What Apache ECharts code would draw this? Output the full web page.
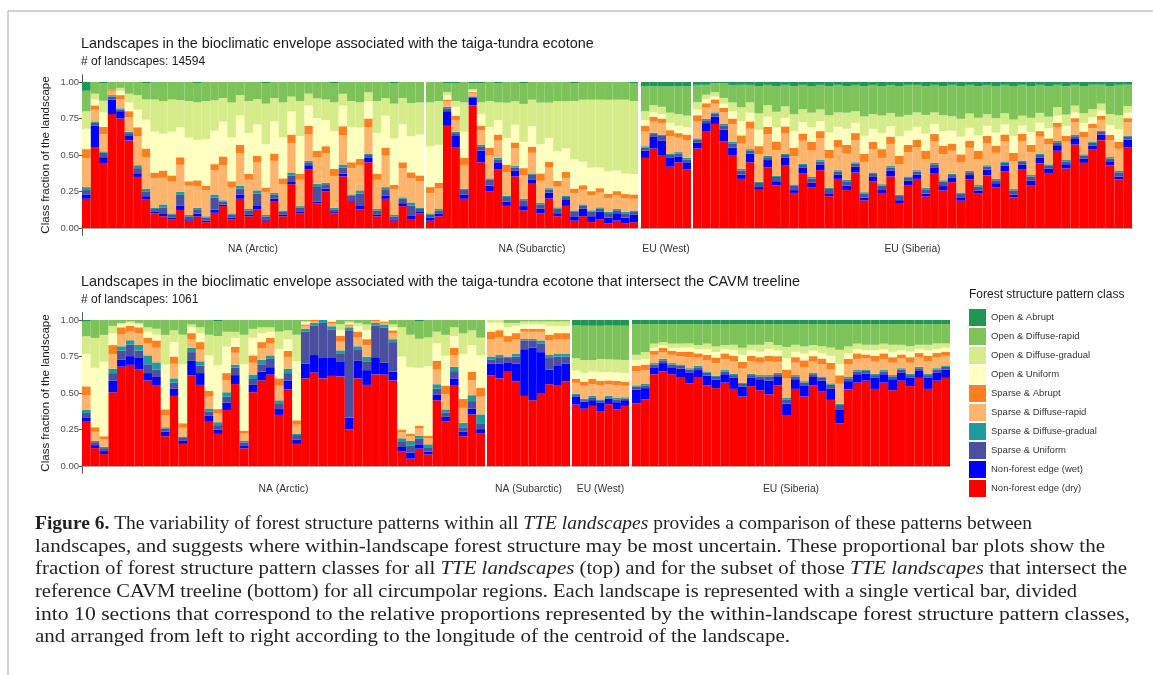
<!DOCTYPE html>
<html>
<head>
<meta charset="utf-8">
<script src="https://cdn.jsdelivr.net/npm/echarts@6/dist/echarts.min.js"></script>
<style>
  html, body { margin: 0; padding: 0; background: #fff; }
  #chart { width: 1153px; height: 675px; }
</style>
</head>
<body>
<div id="chart"></div>
<script>
// classes, bottom of the stack first
var classNames = ['Non-forest edge (dry)', 'Non-forest edge (wet)', 'Sparse & Uniform', 'Sparse & Diffuse-gradual',
  'Sparse & Diffuse-rapid', 'Sparse & Abrupt', 'Open & Uniform', 'Open & Diffuse-gradual', 'Open & Diffuse-rapid', 'Open & Abrupt']
var classColors = ['#ff0000', '#0000ff', '#4b4fa0', '#1f9a9e', '#fdb46c', '#fd8020', '#ffffbf', '#d6ec8a', '#7dc35a', '#1f9752']
var regionNames = ['NA (Arctic)', 'NA (Subarctic)', 'EU (West)', 'EU (Siberia)']
var yTicks = [0, 0.25, 0.5, 0.75, 1]

// ---- top panel: all TTE landscapes (bars per region, %)
var topCounts = [40, 25, 6, 50]
var topDry = [20,55,45,78,75,60,35,20,10,8, 6,12,5,8,4,10,15,6,20,8, 12,5,18,8,30,10,40,15,25,10, 35,18,12,45,8,20,5,15,6,10,
  5,8,70,55,20,85,45,25,40,15, 35,12,30,10,20,8,15,5,8,4, 6,3,5,3,4,
  48,55,50,42,45,40,
  55,68,72,60,50,35,45,28,42,30, 44,25,38,28,40,22,34,26,38,20, 32,24,35,18,30,34,22,38,26,32, 20,34,24,36,28,40,22,42,30,46, 38,55,42,60,46,58,65,45,35,60]
var topWet = [3,15,4,10,5,3,2,2,1,2, 1,3,1,2,1,2,1,1,3,1, 2,1,2,1,2,1,3,1,2,1, 2,1,2,3,1,2,1,2,2,1,
  2,2,10,8,3,5,8,4,5,3, 4,3,3,3,4,2,4,3,5,4, 5,4,5,4,5,
  5,8,10,6,4,5,
  4,6,5,8,5,3,6,2,5,3, 5,2,4,3,4,2,3,3,4,2, 3,2,4,2,3,3,2,4,3,3, 2,3,2,4,3,4,2,3,3,4, 3,4,3,4,3,3,4,3,2,6]
var topSparseUni = [3,2,3,2,1,2,4,3,2,4, 2,7,2,3,2,8,2,2,4,3, 8,2,3,2,4,3,2,9,3,2, 4,3,8,2,3,4,2,3,7,2,
  2,2,2,2,3,1,3,4,2,3, 2,4,3,3,2,3,2,3,2,3, 2,3,2,3,2,
  2,2,3,2,2,2,
  2,2,2,3,3,3,2,3,2,3, 2,3,2,3,2,3,2,3,2,3, 2,3,2,3,2,2,3,2,3,2, 3,2,3,2,2,2,3,2,3,2, 2,2,2,2,2,2,2,2,3,2]
var topSparseGrad = [2,1,1,1,1,1,2,2,1,2, 1,2,1,1,1,2,1,1,2,1, 2,1,1,1,2,1,1,2,1,1, 2,1,2,1,1,2,1,1,2,1,
  1,1,1,1,1,0,1,1,1,1, 1,1,1,1,1,1,1,1,1,1, 1,1,1,1,1,
  1,1,1,1,1,1,
  1,1,1,1,1,1,1,1,1,1, 1,1,1,1,1,1,1,1,1,1, 1,1,1,1,1,1,1,1,1,1, 1,1,1,1,1,1,1,1,1,1, 1,1,1,1,1,1,1,1,1,1]
var topSparseRapid = [20,8,12,3,6,10,20,22,20,18, 22,18,20,15,18,16,24,18,22,20, 18,16,22,18,20,18,18,16,20,22, 20,18,16,18,20,22,18,20,16,18,
  14,14,4,8,16,2,10,16,12,16, 12,16,14,15,14,14,12,12,10,10, 10,9,9,9,8,
  10,8,8,12,10,12,
  12,8,6,8,12,18,14,20,15,18, 14,20,16,18,15,20,16,18,15,22, 16,18,15,22,17,16,20,15,18,16, 22,16,18,15,18,14,20,14,16,12, 14,10,13,9,12,10,8,12,16,10]
var topSparseAbrupt = [6,3,5,1,3,4,6,6,4,5, 4,5,3,4,3,4,6,4,6,4, 4,3,5,4,6,4,6,4,5,5, 6,4,4,6,4,5,3,4,4,4,
  4,4,1,3,5,1,3,5,4,5, 4,5,4,5,4,4,4,3,3,3, 3,3,3,3,3,
  4,3,3,4,3,4,
  4,3,3,3,4,6,5,6,5,6, 5,6,5,6,5,6,5,6,5,6, 5,6,5,6,5,5,6,5,6,5, 6,5,6,5,5,5,6,5,5,4, 4,3,4,3,4,3,3,4,5,3]
var topOpenUni = [14,4,10,0,3,6,12,20,28,25, 30,20,30,28,32,22,24,30,20,28, 20,30,22,28,16,26,14,20,18,26, 14,24,20,12,28,22,32,26,24,28,
  28,26,3,6,18,1,8,14,10,18, 12,18,14,20,16,20,16,20,16,16, 14,15,14,14,14,
  4,3,3,5,5,5,
  4,3,2,3,5,10,6,12,7,10, 6,12,8,10,7,12,9,11,7,13, 9,11,7,14,10,9,12,7,10,9, 13,9,11,7,9,7,12,6,9,6, 7,5,7,4,6,5,4,7,9,4]
var topOpenGrad = [12,4,8,0,2,6,10,14,22,22, 22,18,25,26,26,20,16,24,14,22, 16,28,16,24,10,24,8,12,14,20, 8,18,16,6,22,12,24,18,22,22,
  30,30,2,4,20,1,8,18,12,24, 16,26,18,28,24,34,32,40,42,46, 46,48,48,50,50,
  6,5,5,7,8,8,
  5,3,3,4,6,10,7,12,8,11, 8,12,9,10,8,12,10,11,8,14, 10,12,9,14,11,10,13,8,11,10, 13,10,12,8,10,8,12,7,10,7, 8,6,8,5,7,6,5,8,10,5]
var topOpenRapid = [14,8,12,5,4,8,9,11,12,13, 12,12,13,13,13,12,11,14,9,13, 11,14,11,14,10,13,8,10,12,13, 8,13,13,7,13,11,14,11,14,14,
  14,13,6,12,14,4,13,13,13,14, 13,14,12,14,14,13,13,12,12,12, 12,12,12,12,12,
  17,13,14,18,19,20,
  12,7,6,10,12,16,12,20,14,18, 15,20,17,18,17,20,19,18,18,22, 20,20,19,22,21,19,20,19,20,22, 24,20,22,20,22,20,24,22,22,20, 21,16,20,15,19,18,14,20,22,16]
var topOpenAbrupt = [6,0,1,0,0,0,0,1,0,0, 0,0,0,1,0,0,0,0,0,0, 0,1,0,0,0,0,0,0,0,1, 0,0,0,0,0,0,1,0,0,0,
  0,0,1,1,0,1,1,0,1,0, 0,1,0,0,0,0,0,1,0,0, 0,0,0,0,1,
  3,3,3,3,3,3,
  2,2,1,1,2,2,2,3,2,3, 2,3,2,3,2,3,2,3,2,3, 2,3,2,3,2,2,3,2,3,2, 3,2,3,2,3,2,3,2,3,2, 3,2,3,2,3,2,2,3,2,2]

// ---- bottom panel: landscapes that intersect the CAVM treeline
var botCounts = [46, 10, 7, 36]
var botDry = [30,12,8,50,68,70,66,58,55,20, 48,15,62,55,30,22,38,55,12,50, 58,62,35,52,15,60,64,60,58,62, 25,60,55,64,62,58,10,5,12,8, 45,30,55,20,35,22,
  62,60,65,58,48,45,50,56,55,58,
  45,40,42,38,44,40,42,
  45,48,66,68,66,64,60,64,58,56, 60,56,50,58,55,52,58,36,56,50, 58,54,48,30,55,60,62,56,60,55, 62,58,64,56,62,64]
var botWet = [3,2,2,8,5,6,8,5,6,3, 5,2,10,8,4,3,5,6,2,5, 6,5,4,6,3,10,12,14,12,10, 8,12,10,12,8,6,3,4,3,2, 4,3,5,3,4,3,
  8,10,6,12,32,36,28,10,14,12,
  6,5,4,6,4,5,4,
  10,8,5,6,5,6,8,5,7,6, 6,8,7,6,8,10,6,8,7,8, 6,8,8,10,6,6,5,8,6,8, 6,6,5,8,6,6]
var botSparseUni = [3,2,2,5,6,8,5,6,5,2, 4,2,6,5,3,3,4,5,2,4, 5,6,4,5,3,22,20,24,18,6, 60,8,6,22,24,20,4,5,4,3, 4,3,5,3,5,4,
  3,4,3,5,6,5,6,8,6,5,
  1,1,2,1,1,2,1,
  2,2,2,2,2,2,2,2,2,2, 2,2,2,2,2,3,2,3,2,2, 2,2,3,3,2,2,2,2,2,2, 2,2,2,2,2,2]
var botSparseGrad = [2,1,1,3,3,3,4,6,5,1, 3,1,3,3,2,2,3,2,1,3, 3,2,2,3,1,2,2,2,2,2, 2,2,3,2,2,2,2,3,2,2, 3,2,3,3,4,6,
  2,2,1,2,1,1,2,2,2,2,
  1,1,1,1,1,1,1,
  1,1,1,1,1,1,1,1,1,1, 1,1,1,1,1,1,1,1,1,1, 1,1,1,1,1,1,1,1,1,1, 1,1,1,1,1,1]
var botSparseRapid = [10,6,5,10,8,6,8,8,10,8, 10,6,6,8,8,6,8,8,5,8, 8,8,10,8,6,2,1,0,2,6, 1,6,8,1,1,4,4,3,5,4, 10,10,8,10,10,12,
  12,12,10,10,5,5,6,10,10,10,
  8,9,8,10,8,9,8,
  10,10,6,5,6,6,8,6,8,9, 8,9,10,9,9,10,8,14,9,10, 8,9,10,14,9,8,8,9,8,9, 7,8,7,9,8,7]
var botSparseAbrupt = [6,3,2,6,5,4,4,4,5,4, 5,3,4,5,4,3,5,4,2,5, 4,4,5,4,3,1,1,0,1,4, 1,4,4,1,1,2,2,2,2,2, 6,6,5,6,6,6,
  5,5,4,4,2,2,2,4,4,4,
  3,3,4,3,3,3,3,
  4,4,3,3,3,3,4,3,4,4, 4,4,5,4,4,4,4,6,4,5, 4,4,5,6,4,4,3,4,4,4, 3,4,3,4,3,3]
var botOpenUni = [22,40,50,8,2,2,2,4,4,30, 10,40,4,6,24,30,18,6,45,12, 6,4,20,8,40,2,0,0,1,4, 1,4,6,0,1,2,50,45,40,48, 12,20,8,30,18,22,
  6,5,6,5,3,3,3,6,5,5,
  6,6,5,6,6,6,6,
  4,4,2,2,2,3,3,3,4,4, 3,4,5,4,4,5,4,8,4,5, 4,4,5,8,4,3,3,4,3,4, 3,4,3,4,3,3]
var botOpenGrad = [12,20,18,5,1,1,1,3,4,20, 8,20,2,4,14,20,10,4,20,6, 4,3,12,6,18,0,0,0,0,4, 1,2,4,0,0,2,20,22,20,20, 8,14,6,14,10,12,
  2,2,3,2,2,2,2,3,3,3,
  9,9,8,9,9,9,9,
  4,5,3,2,3,3,3,3,4,4, 3,4,5,4,5,5,4,8,5,5, 4,5,6,10,5,4,4,4,4,5, 4,4,3,4,4,3]
var botOpenRapid = [10,12,10,4,2,1,2,5,6,10, 7,10,3,5,10,10,8,8,10,6, 5,5,8,7,10,1,0,0,0,3, 1,2,3,0,0,3,5,10,12,12, 8,10,5,9,7,12,
  0,0,2,2,1,1,1,1,1,1,
  24,24,24,23,24,24,24,
  22,20,14,13,14,14,14,15,14,16, 15,15,17,15,15,13,15,16,15,16, 15,16,17,18,16,14,15,15,14,15, 15,16,15,15,14,14]
var botOpenAbrupt = [1,0,0,0,0,0,0,0,0,0, 0,0,0,0,0,1,0,0,0,0, 0,0,0,0,0,0,0,0,0,0, 0,0,0,0,0,0,0,0,1,0, 0,0,0,0,0,0,
  0,0,0,0,0,0,0,0,0,0,
  4,4,4,4,4,4,4,
  3,3,3,3,3,3,3,3,3,3, 3,3,3,3,3,3,3,3,3,3, 3,3,3,3,3,3,3,3,3,3, 3,3,3,3,3,3]

var captionLines = [
  ['{b|Figure 6.} The variability of forest structure patterns within all {i|TTE landscapes} provides a comparison of these patterns between', 1032],
  ['landscapes, and suggests where within-landscape forest structure may be most uncertain. These proportional bar plots show the', 1105],
  ['fraction of forest structure pattern classes for all {i|TTE landscapes} (top) and for the subset of those {i|TTE landscapes} that intersect the', 1127],
  ['reference CAVM treeline (bottom) for all circumpolar regions. Each landscape is represented with a single vertical bar, divided', 1077],
  ['into 10 sections that correspond to the relative proportions represented by the within-landscape forest structure pattern classes,', 1130],
  ['and arranged from left to right according to the longitude of the centroid of the landscape.', 790]
]

;(function () {
  var sans = '"Liberation Sans", Arial, sans-serif'
  var serif = '"Liberation Serif", "Times New Roman", serif'
  var capSize = 19
  var myChart = echarts.init(document.getElementById('chart'))

  var panels = [
    {
      counts: topCounts, top: 74.7, height: 160.6,
      lefts: [82, 426, 641, 693], rights: [424, 638, 691, 1132],
      classes: [topDry, topWet, topSparseUni, topSparseGrad, topSparseRapid, topSparseAbrupt, topOpenUni, topOpenGrad, topOpenRapid, topOpenAbrupt],
      nameGap: 9
    },
    {
      counts: botCounts, top: 312.7, height: 160.6,
      lefts: [82, 487, 572, 632], rights: [485, 570, 629, 950],
      classes: [botDry, botWet, botSparseUni, botSparseGrad, botSparseRapid, botSparseAbrupt, botOpenUni, botOpenGrad, botOpenRapid, botOpenAbrupt],
      nameGap: 11
    }
  ]

  var grid = [], xAxis = [], yAxis = [], series = []
  panels.forEach(function (p, pi) {
    var start = 0
    p.counts.forEach(function (n, f) {
      var gi = grid.length
      grid.push({ left: p.lefts[f], width: p.rights[f] - p.lefts[f], top: p.top, height: p.height })
      var cats = []
      for (var k = 0; k < n; k++) cats.push(start + k)
      xAxis.push({
        type: 'category', gridIndex: gi, data: cats,
        axisLine: { lineStyle: { color: '#8f8f8f', width: 1.5 } },
        axisTick: { show: false }, axisLabel: { show: false },
        name: regionNames[f], nameLocation: 'middle', nameGap: p.nameGap,
        nameTextStyle: { fontSize: 10.3, color: '#333', fontFamily: sans }
      })
      var first = f === 0
      yAxis.push({
        type: 'value', gridIndex: gi, min: -0.05, max: 1.05,
        show: first,
        splitLine: { show: false },
        axisLine: { show: true, lineStyle: { color: '#555', width: 1 } },
        axisTick: { show: true, customValues: yTicks, length: 3, lineStyle: { color: '#555' } },
        axisLabel: { customValues: yTicks, fontSize: 9.5, color: '#4d4d4d', margin: 3, fontFamily: sans,
          formatter: function (v) { return v.toFixed(2) } },
        name: first ? 'Class fraction of the landscape' : '',
        nameLocation: 'middle', nameGap: 30, nameRotate: 90,
        nameTextStyle: { fontSize: 11.5, color: '#1a1a1a', fontFamily: sans }
      })
      // proportional stack (position = fill)
      var totals = []
      for (var b = 0; b < n; b++) {
        var s = 0
        p.classes.forEach(function (arr) { s += arr[start + b] || 0 })
        totals.push(s || 1)
      }
      p.classes.forEach(function (arr, c) {
        series.push({
          type: 'bar', name: classNames[c], stack: 'p' + pi + 'f' + f,
          xAxisIndex: gi, yAxisIndex: gi,
          barCategoryGap: '0%',
          itemStyle: { color: classColors[c] },
          data: arr.slice(start, start + n).map(function (v, b) { return (v || 0) / totals[b] })
        })
      })
      start += n
    })
  })

  // caption lines squeezed to the widths of the original condensed typeface
  var ctx = document.createElement('canvas').getContext('2d')
  var fonts = { n: capSize + 'px ' + serif, b: 'bold ' + capSize + 'px ' + serif, i: 'italic ' + capSize + 'px ' + serif }
  function measure (str) {
    var w = 0
    str.split(/(\{[bi]\|[^}]*\})/).forEach(function (part) {
      if (!part) return
      var m = part.match(/^\{([bi])\|([^}]*)\}$/)
      ctx.font = m ? fonts[m[1]] : fonts.n
      w += ctx.measureText(m ? m[2] : part).width
    })
    return w
  }
  var graphic = [
    { type: 'line', shape: { x1: 8, y1: 11, x2: 1153, y2: 11 }, style: { stroke: '#c2c2c2', lineWidth: 1.5 } },
    { type: 'line', shape: { x1: 8, y1: 11, x2: 8, y2: 675 }, style: { stroke: '#c2c2c2', lineWidth: 1.5 } }
  ]
  captionLines.forEach(function (line, i) {
    var left = 35
    var sx = (line[1] - left) / measure(line[0])
    graphic.push({
      type: 'text', x: left, y: 524 + i * 22.7, scaleX: sx,
      style: {
        text: line[0], font: fonts.n, fill: '#231f20', verticalAlign: 'middle',
        rich: { b: { font: fonts.b, fill: '#231f20' }, i: { font: fonts.i, fill: '#231f20' } }
      }
    })
  })

  var titleStyle = { fontSize: 14.4, fontWeight: 'normal', color: '#1a1a1a', fontFamily: sans }
  var subStyle = { fontSize: 12, fontWeight: 'normal', color: '#1a1a1a', fontFamily: sans }

  var option = {
    backgroundColor: '#fff',
    animation: false,
    title: [
      { text: 'Landscapes in the bioclimatic envelope associated with the taiga-tundra ecotone', left: 81, top: 37, padding: 0, textStyle: titleStyle },
      { text: '# of landscapes: 14594', left: 81, top: 56, padding: 0, textStyle: subStyle },
      { text: 'Landscapes in the bioclimatic envelope associated with the taiga-tundra ecotone that intersect the CAVM treeline', left: 81, top: 275, padding: 0, textStyle: titleStyle },
      { text: '# of landscapes: 1061', left: 81, top: 294, padding: 0, textStyle: subStyle },
      { text: 'Forest structure pattern class', left: 969, top: 289, padding: 0, textStyle: { fontSize: 12, fontWeight: 'normal', color: '#1a1a1a', fontFamily: sans } }
    ],
    legend: {
      orient: 'vertical', left: 969, top: 309, padding: 0,
      itemWidth: 17, itemHeight: 17, itemGap: 2, icon: 'rect',
      selectedMode: false,
      data: classNames.slice().reverse(),
      textStyle: { fontSize: 9.5, color: '#333', fontFamily: sans }
    },
    grid: grid,
    xAxis: xAxis,
    yAxis: yAxis,
    series: series,
    graphic: graphic
  }

  myChart.setOption(option)
})()
</script>
</body>
</html>
